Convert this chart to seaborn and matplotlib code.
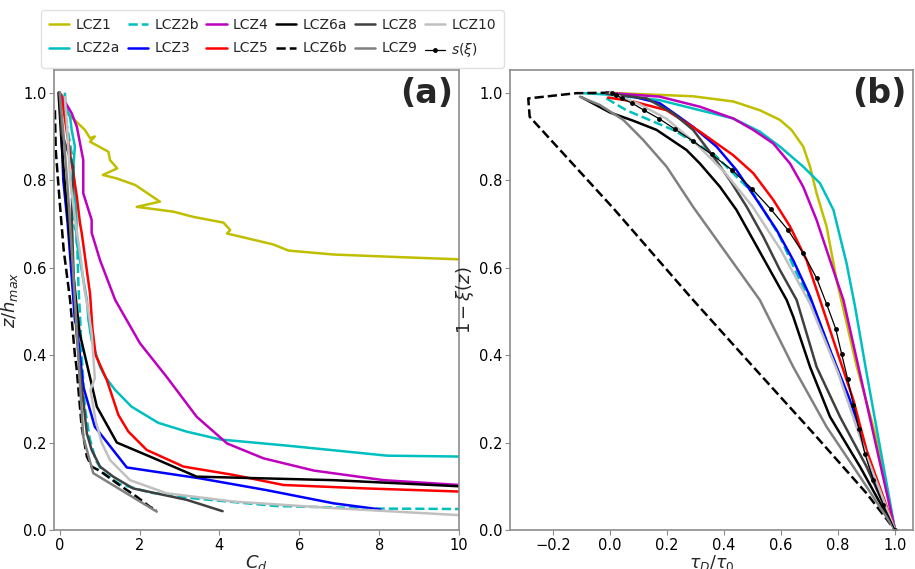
import matplotlib
matplotlib.use("Agg")
import matplotlib.pyplot as plt
import seaborn as sns

# ---------------- data: panel (a)  C_d vs z/h_max ----------------
a_lcz1_cd = [-0.03, 0.13, 0.09, 0.38, 0.63, 0.76, 0.88, 0.76, 1.22, 1.26, 1.44, 1.08, 1.43, 1.89, 2.51, 1.93,
             2.85, 3.35, 4.10, 4.27, 4.19, 4.52, 5.35, 5.73, 6.86, 8.53, 10.0, 12.0]
a_lcz1_z = [1.0, 0.99, 0.96, 0.937, 0.915, 0.896, 0.90, 0.888, 0.865, 0.846, 0.827, 0.812, 0.804, 0.789, 0.751,
            0.739, 0.728, 0.716, 0.703, 0.686, 0.678, 0.671, 0.653, 0.639, 0.630, 0.624, 0.619, 0.615]
a_lcz2a_cd = [0.0, 0.26, 0.30, 0.38, 0.34, 0.42, 0.42, 0.55, 0.68, 0.72, 0.80, 1.01, 1.14, 1.39, 1.80, 2.47,
              3.18, 4.02, 5.69, 8.2, 10.0, 12.0]
a_lcz2a_z = [1.0, 0.945, 0.915, 0.877, 0.83, 0.71, 0.66, 0.595, 0.526, 0.48, 0.434, 0.373, 0.35, 0.32, 0.282,
             0.245, 0.225, 0.207, 0.193, 0.170, 0.168, 0.166]
a_lcz2b_cd = [0.13, 0.17, 0.34, 0.30, 0.38, 0.43, 0.47, 0.51, 0.55, 0.63, 0.75, 0.90, 1.10, 1.5, 2.3, 3.4, 5.4,
              8.0, 10.0, 12.0]
a_lcz2b_z = [1.0, 0.93, 0.84, 0.76, 0.69, 0.68, 0.556, 0.488, 0.40, 0.28, 0.21, 0.16, 0.13, 0.105, 0.085, 0.072,
             0.055, 0.049, 0.048, 0.047]
a_lcz3_cd = [0.0, 0.05, 0.09, 0.20, 0.30, 0.38, 0.43, 0.59, 0.88, 1.01, 1.68, 3.52, 5.19, 6.86, 8.03]
a_lcz3_z = [1.0, 0.90, 0.80, 0.70, 0.58, 0.48, 0.465, 0.328, 0.236, 0.221, 0.143, 0.118, 0.091, 0.061, 0.047]
a_lcz4_cd = [0.0, 0.30, 0.43, 0.59, 0.59, 0.80, 0.80, 1.01, 1.39, 2.01, 2.68, 3.43, 4.19, 5.1, 6.36, 8.11,
             10.0, 12.0]
a_lcz4_z = [1.0, 0.953, 0.922, 0.846, 0.77, 0.709, 0.68, 0.617, 0.526, 0.427, 0.35, 0.259, 0.198, 0.164, 0.136,
            0.114, 0.103, 0.095]
a_lcz5_cd = [0.05, 0.26, 0.34, 0.43, 0.51, 0.55, 0.76, 0.82, 0.90, 1.18, 1.47, 1.72, 2.18, 3.10, 4.35, 5.6,
             7.69, 10.0, 12.0]
a_lcz5_z = [0.99, 0.86, 0.816, 0.762, 0.70, 0.68, 0.54, 0.46, 0.40, 0.343, 0.263, 0.225, 0.183, 0.145, 0.126,
            0.103, 0.095, 0.088, 0.085]
a_lcz6a_cd = [-0.03, 0.05, 0.13, 0.30, 0.43, 0.50, 0.93, 1.43, 2.26, 3.43, 6.86, 10.0, 12.0]
a_lcz6a_z = [1.0, 0.88, 0.79, 0.62, 0.507, 0.45, 0.282, 0.2, 0.168, 0.122, 0.114, 0.10, 0.098]
a_lcz6b_cd = [-0.12, -0.10, 0.0, 0.10, 0.26, 0.38, 0.42, 0.55, 0.68, 0.80, 1.01, 1.43, 1.93, 2.26, 2.43]
a_lcz6b_z = [0.96, 0.87, 0.75, 0.64, 0.526, 0.40, 0.373, 0.236, 0.168, 0.145, 0.135, 0.107, 0.076, 0.053, 0.045]
a_lcz8_cd = [0.0, 0.05, 0.34, 0.30, 0.35, 0.42, 0.55, 0.68, 0.80, 1.01, 1.34, 1.84, 3.18, 4.08]
a_lcz8_z = [1.0, 0.907, 0.83, 0.72, 0.58, 0.45, 0.33, 0.221, 0.183, 0.145, 0.122, 0.095, 0.069, 0.043]
a_lcz9_cd = [0.0, 0.10, 0.20, 0.30, 0.40, 0.47, 0.59, 0.84, 2.43]
a_lcz9_z = [1.0, 0.90, 0.78, 0.64, 0.50, 0.389, 0.213, 0.13, 0.042]
a_lcz10_cd = [0.13, 0.20, 0.26, 0.40, 0.51, 0.62, 0.72, 0.80, 0.88, 0.77, 0.90, 1.05, 1.26, 1.76, 2.68, 4.35,
              6.86, 10.0, 12.0]
a_lcz10_z = [0.99, 0.90, 0.80, 0.70, 0.633, 0.55, 0.50, 0.45, 0.347, 0.32, 0.25, 0.20, 0.16, 0.114, 0.084,
             0.065, 0.05, 0.034, 0.03]

# ---------------- data: panel (b)  tau_D/tau_0 vs 1-xi(z) ----------------
b_s_t = [0.006, 0.023, 0.043, 0.078, 0.12, 0.172, 0.228, 0.29, 0.357, 0.429, 0.499, 0.564, 0.626, 0.678, 0.725,
         0.76, 0.792, 0.813, 0.834, 0.854, 0.874, 0.895, 0.924, 0.959, 1.0]
b_s_y = [1.0, 0.995, 0.987, 0.976, 0.96, 0.941, 0.917, 0.89, 0.859, 0.823, 0.78, 0.734, 0.685, 0.633, 0.576,
         0.517, 0.46, 0.402, 0.345, 0.287, 0.23, 0.173, 0.114, 0.057, 0.0]
b_lcz1_t = [-0.012, 0.29, 0.433, 0.526, 0.596, 0.637, 0.678, 0.702, 0.725, 0.76, 0.795, 0.866, 0.93, 1.0]
b_lcz1_y = [1.0, 0.992, 0.98, 0.96, 0.938, 0.915, 0.877, 0.831, 0.77, 0.694, 0.572, 0.373, 0.221, 0.0]
b_lcz2a_t = [-0.094, -0.012, 0.175, 0.316, 0.433, 0.526, 0.596, 0.678, 0.737, 0.784, 0.83, 0.86, 0.90, 0.95, 1.0]
b_lcz2a_y = [0.999, 0.996, 0.983, 0.96, 0.941, 0.911, 0.877, 0.831, 0.793, 0.732, 0.61, 0.51, 0.36, 0.18, 0.0]
b_lcz2b_t = [-0.012, 0.058, 0.222, 0.363, 0.503, 0.596, 0.655, 0.714, 0.795, 0.866, 1.0]
b_lcz2b_y = [0.987, 0.96, 0.915, 0.861, 0.77, 0.671, 0.587, 0.51, 0.373, 0.236, 0.0]
b_lcz3_t = [-0.012, 0.082, 0.175, 0.234, 0.292, 0.374, 0.444, 0.515, 0.585, 0.643, 0.702, 0.772, 0.842, 0.912, 1.0]
b_lcz3_y = [1.0, 0.991, 0.976, 0.949, 0.922, 0.877, 0.823, 0.755, 0.686, 0.617, 0.534, 0.412, 0.297, 0.145, 0.0]
b_lcz4_t = [-0.012, 0.175, 0.316, 0.433, 0.503, 0.573, 0.632, 0.678, 0.725, 0.772, 0.819, 0.924, 1.0]
b_lcz4_y = [1.0, 0.991, 0.968, 0.941, 0.915, 0.884, 0.838, 0.785, 0.709, 0.617, 0.526, 0.221, 0.0]
b_lcz5_t = [-0.006, 0.082, 0.199, 0.316, 0.433, 0.503, 0.573, 0.632, 0.69, 0.737, 0.795, 0.854, 0.90, 1.0]
b_lcz5_y = [0.989, 0.98, 0.96, 0.911, 0.857, 0.816, 0.755, 0.694, 0.617, 0.526, 0.412, 0.297, 0.183, 0.0]
b_lcz6a_t = [-0.10, 0.0, 0.082, 0.164, 0.269, 0.316, 0.386, 0.444, 0.503, 0.561, 0.62, 0.643, 0.702, 0.772,
             0.877, 1.0]
b_lcz6a_y = [0.99, 0.955, 0.936, 0.915, 0.869, 0.838, 0.785, 0.732, 0.663, 0.595, 0.526, 0.488, 0.373, 0.259,
             0.145, 0.0]
b_lcz6b_t = [0.0, -0.117, -0.286, -0.281, 0.012, 0.292, 0.503, 0.714, 0.90, 1.0]
b_lcz6b_y = [1.0, 0.999, 0.987, 0.945, 0.736, 0.526, 0.373, 0.221, 0.084, 0.0]
b_lcz8_t = [-0.012, 0.129, 0.222, 0.292, 0.363, 0.421, 0.48, 0.538, 0.596, 0.655, 0.725, 0.807, 0.90, 1.0]
b_lcz8_y = [0.998, 0.987, 0.953, 0.915, 0.854, 0.80, 0.739, 0.671, 0.595, 0.526, 0.373, 0.259, 0.145, 0.0]
b_lcz9_t = [-0.105, -0.035, 0.047, 0.117, 0.199, 0.292, 0.526, 0.643, 0.76, 0.877, 1.0]
b_lcz9_y = [0.991, 0.972, 0.938, 0.892, 0.831, 0.739, 0.526, 0.373, 0.236, 0.122, 0.0]
b_lcz10_t = [0.0, 0.1, 0.2, 0.3, 0.4, 0.5, 0.6, 0.7, 0.8, 0.9, 1.0]
b_lcz10_y = [1.0, 0.975, 0.94, 0.885, 0.82, 0.74, 0.64, 0.52, 0.36, 0.17, 0.0]

labels = ["LCZ1", "LCZ2a", "LCZ2b", "LCZ3", "LCZ4", "LCZ5", "LCZ6a", "LCZ6b", "LCZ8", "LCZ9", "LCZ10"]
colors = ["#bfbf00", "#00bfbf", "#00bfbf", "#0000ff", "#bf00bf", "#ff0000", "#000000", "#000000",
          "#404040", "#808080", "#c0c0c0"]
styles = ["-", "-", "--", "-", "-", "-", "-", "--", "-", "-", "-"]

a_series = [(a_lcz1_cd, a_lcz1_z), (a_lcz2a_cd, a_lcz2a_z), (a_lcz2b_cd, a_lcz2b_z), (a_lcz3_cd, a_lcz3_z),
            (a_lcz4_cd, a_lcz4_z), (a_lcz5_cd, a_lcz5_z), (a_lcz6a_cd, a_lcz6a_z), (a_lcz6b_cd, a_lcz6b_z),
            (a_lcz8_cd, a_lcz8_z), (a_lcz9_cd, a_lcz9_z), (a_lcz10_cd, a_lcz10_z)]
b_series = [(b_lcz1_t, b_lcz1_y), (b_lcz2a_t, b_lcz2a_y), (b_lcz2b_t, b_lcz2b_y), (b_lcz3_t, b_lcz3_y),
            (b_lcz4_t, b_lcz4_y), (b_lcz5_t, b_lcz5_y), (b_lcz6a_t, b_lcz6a_y), (b_lcz6b_t, b_lcz6b_y),
            (b_lcz8_t, b_lcz8_y), (b_lcz9_t, b_lcz9_y), (b_lcz10_t, b_lcz10_y)]

sns.set_style("white")
plt.rcParams.update({
    "font.family": ["DejaVu Sans"],
    "axes.edgecolor": "0.55",
    "axes.linewidth": 1.2,
    "xtick.color": "0.55",
    "ytick.color": "0.55",
    "xtick.labelcolor": "black",
    "ytick.labelcolor": "black",
    "xtick.bottom": True,
    "ytick.left": True,
    "xtick.major.size": 3.5,
    "ytick.major.size": 3.5,
    "mathtext.fontset": "dejavusans",
})

fig = plt.figure(figsize=(9.15, 5.69), dpi=100)
ax_a = fig.add_axes([54 / 915, 1 - 530 / 569, 405 / 915, 460 / 569])
ax_b = fig.add_axes([510 / 915, 1 - 530 / 569, 403 / 915, 460 / 569])

lw = 1.8
for (x, y), lab, c, ls in zip(a_series, labels, colors, styles):
    sns.lineplot(x=x, y=y, sort=False, estimator=None, color=c, linestyle=ls, linewidth=lw, ax=ax_a,
                 label=lab, legend=False)
for (x, y), lab, c, ls in zip(b_series, labels, colors, styles):
    sns.lineplot(x=x, y=y, sort=False, estimator=None, color=c, linestyle=ls, linewidth=lw, ax=ax_b,
                 label=lab, legend=False)
sns.lineplot(x=b_s_t, y=b_s_y, sort=False, estimator=None, color="black", linewidth=0.9, marker="o",
             markersize=3.5, markeredgewidth=0, ax=ax_b, label=r"$s(\xi)$", legend=False)

ax_a.set_xlim(-0.143, 10)
ax_a.set_ylim(0, 1.052)
ax_b.set_xlim(-0.35, 1.063)
ax_b.set_ylim(0, 1.052)
ax_a.set_xticks([0, 2, 4, 6, 8, 10])
ax_a.set_yticks([0, 0.2, 0.4, 0.6, 0.8, 1.0])
ax_b.set_xticks([-0.2, 0.0, 0.2, 0.4, 0.6, 0.8, 1.0])
ax_b.set_yticks([0, 0.2, 0.4, 0.6, 0.8, 1.0])
for ax in (ax_a, ax_b):
    ax.tick_params(labelsize=10.5, pad=2)

ax_a.set_xlabel(r"$C_d$", fontsize=13, labelpad=0)
ax_a.set_ylabel(r"$z/h_{max}$", fontsize=13, labelpad=2)
ax_b.set_xlabel(r"$\tau_D/\tau_0$", fontsize=12.5, labelpad=0)
ax_b.set_ylabel(r"$1-\xi(z)$", fontsize=13, labelpad=2)

ax_a.text(0.985, 0.985, "(a)", transform=ax_a.transAxes, ha="right", va="top", fontsize=24,
          fontweight="bold")
ax_b.text(0.985, 0.985, "(b)", transform=ax_b.transAxes, ha="right", va="top", fontsize=24,
          fontweight="bold")

handles, labs = ax_b.get_legend_handles_labels()
fig.legend(handles, labs, ncol=6, loc="upper left", bbox_to_anchor=(41 / 915, 1 - 10 / 569),
           borderaxespad=0, prop={"family": ["Liberation Sans Narrow", "DejaVu Sans"], "size": 10},
           frameon=True, edgecolor="0.85", columnspacing=0.55, handlelength=1.45, handletextpad=0.45,
           borderpad=0.6, labelspacing=0.65)

fig.savefig("out.png", dpi=100)
